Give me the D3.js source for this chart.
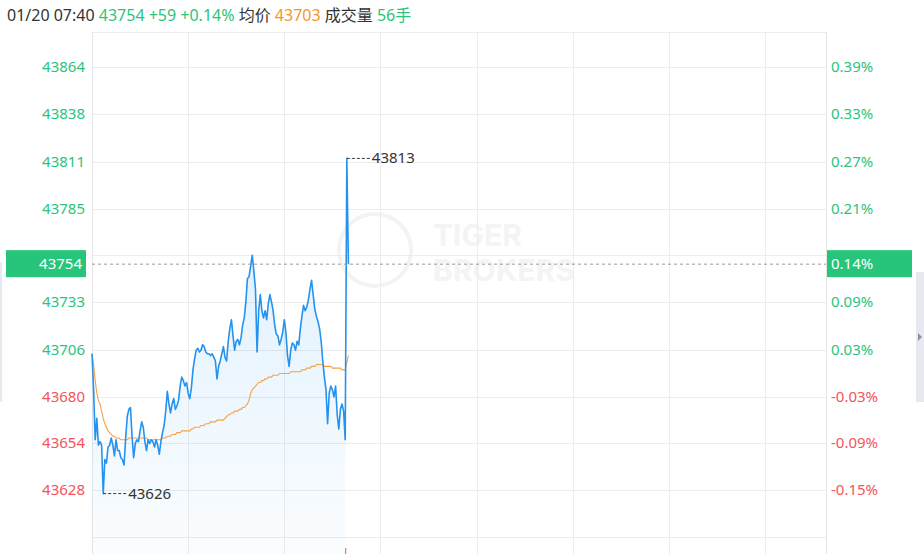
<!DOCTYPE html>
<html><head><meta charset="utf-8">
<script src="https://cdn.jsdelivr.net/npm/d3@7"></script>
<style>html,body{margin:0;padding:0;background:#fff;overflow:hidden}svg{display:block}</style>
</head><body><svg id="c" width="924" height="554"></svg>
<script>
const priceTicks = [43864,43838,43811,43785,43759,43733,43706,43680,43654,43628,43602];
const priceLabels = ["43864","43838","43811","43785","","43733","43706","43680","43654","43628",""];
const pctLabels = ["0.39%","0.33%","0.27%","0.21%","","0.09%","0.03%","-0.03%","-0.09%","-0.15%",""];
const timeGrid = [60,120,180,240,300,360,420];
const preClose = 43695;
const lastPrice = 43754, lastPct = "0.14%";
const maxPoint = {i:159, v:43813}, minPoint = {i:7, v:43626};
const header = [["01/20 07:40 ","#333"],["43754 +59 +0.14% ","#2bc47d"],["均价 ","#333"],["43703 ","#f7962d"],["成交量 ","#333"],["56手","#2bc47d"]];
const prices = [43704,43684,43656,43668,43653,43655,43653,43626,43645,43643,
43652,43653,43657,43653,43647,43656,43650,43650,43646,43645,
43642,43657,43669,43673,43674,43658,43646,43654,43656,43655,
43661,43666,43663,43655,43650,43656,43654,43656,43655,43652,
43656,43653,43648,43655,43660,43664,43672,43683,43676,43671,
43676,43679,43673,43675,43678,43686,43691,43689,43686,43688,
43682,43679,43685,43695,43701,43706,43707,43705,43706,43709,
43708,43705,43704,43704,43703,43704,43702,43700,43690,43697,
43700,43704,43708,43702,43700,43711,43718,43723,43714,43706,
43711,43712,43709,43713,43720,43724,43733,43746,43747,43753,
43759,43750,43740,43705,43728,43737,43728,43724,43728,43723,
43732,43737,43733,43728,43720,43715,43714,43709,43712,43716,
43723,43716,43703,43697,43706,43710,43709,43706,43711,43709,
43718,43725,43731,43728,43730,43734,43740,43745,43737,43729,
43725,43722,43718,43711,43700,43691,43684,43665,43682,43686,
43684,43680,43686,43670,43662,43673,43676,43672,43656,43813,43754];
const avgPrices = [43704,43698,43689,43682,43678,43676,43672,43668,43665,43663,
43661,43660,43659,43658,43658,43657,43657,43657,43656,43656,
43656,43656,43656,43657,43657,43657,43657,43657,43657,43657,
43657,43657,43657,43657,43657,43656,43656,43656,43656,43656,
43656,43656,43656,43656,43657,43657,43657,43658,43658,43658,
43659,43659,43659,43660,43660,43660,43661,43661,43661,43661,
43661,43661,43662,43662,43663,43663,43663,43663,43664,43664,
43664,43665,43665,43665,43666,43666,43666,43666,43667,43667,
43667,43667,43667,43668,43669,43670,43670,43671,43671,43672,
43672,43672,43673,43673,43674,43674,43675,43676,43678,43682,
43684,43685,43686,43687,43688,43688,43689,43689,43690,43690,
43691,43691,43691,43692,43692,43692,43692,43693,43693,43693,
43693,43693,43693,43693,43694,43694,43694,43694,43694,43694,
43694,43695,43695,43695,43696,43696,43696,43697,43697,43697,
43698,43698,43698,43698,43698,43697,43697,43697,43697,43697,
43696,43696,43696,43696,43696,43696,43695,43695,43695,43699,43703];
const lastVolume = {i:158};

const svg = d3.select("#c");
const FONT = "'Noto Sans','Noto Sans CJK SC',sans-serif";
const L=92, R=826, T=32, B=554;
const x = d3.scaleLinear().domain([0,458]).range([L,R]);
const y = d3.scaleLinear().domain([43628,43864]).range([490,67]);
const green="#2bc47d", red="#f2555a", gridC="#ececec";

// side strips
svg.append("rect").attr("x",0).attr("y",262).attr("width",2).attr("height",140).attr("fill","#e6eaf0");
svg.append("rect").attr("x",916).attr("y",272).attr("width",8).attr("height",130).attr("fill","#e6eaf0");
svg.append("path").attr("d","M918,333 L922,337 L918,341 Z").attr("fill","#8a93a0");

// watermark
const wm = svg.append("g");
wm.append("circle").attr("cx",375).attr("cy",250).attr("r",36).attr("fill","none").attr("stroke","#f3f3f3").attr("stroke-width",4);
wm.append("text").attr("x",433).attr("y",246).attr("font-family","Inter,"+FONT).attr("font-weight",700).attr("font-size",30).attr("fill","#f4f4f4").text("TIGER");
wm.append("text").attr("x",433).attr("y",281).attr("font-family","Inter,"+FONT).attr("font-weight",700).attr("font-size",30).attr("fill","#f4f4f4").text("BROKERS");

// grid
svg.append("g").selectAll("line").data(priceTicks).join("line")
  .attr("x1",L).attr("x2",R).attr("y1",d=>Math.round(y(d))+0.5).attr("y2",d=>Math.round(y(d))+0.5)
  .attr("stroke",gridC);
svg.append("line").attr("x1",L).attr("x2",R).attr("y1",T+0.5).attr("y2",T+0.5).attr("stroke",gridC);
svg.append("g").selectAll("line").data(timeGrid).join("line")
  .attr("x1",d=>Math.round(x(d))+0.5).attr("x2",d=>Math.round(x(d))+0.5).attr("y1",T).attr("y2",B)
  .attr("stroke",gridC);
[L,R].forEach(v=>svg.append("line").attr("x1",v+0.5).attr("x2",v+0.5).attr("y1",T).attr("y2",B).attr("stroke","#e6e6e6"));

// area
const defs = svg.append("defs");
const grad = defs.append("linearGradient").attr("id","ag").attr("x1",0).attr("x2",0).attr("y1",0).attr("y2",1);
grad.append("stop").attr("offset","0%").attr("stop-color","#2196f3").attr("stop-opacity",0.13);
grad.append("stop").attr("offset","100%").attr("stop-color","#2196f3").attr("stop-opacity",0.02);
const area = d3.area().x((d,i)=>x(i)).y0(B).y1(d=>y(d));
svg.append("path").datum(prices.slice(0,159)).attr("d",area).attr("fill","url(#ag)");

// avg line
const line = d3.line().x((d,i)=>x(i)).y(d=>y(d));
svg.append("path").datum(avgPrices).attr("d",line).attr("fill","none").attr("stroke","#f7a047").attr("stroke-width",1.1);
// price line
svg.append("path").datum(prices).attr("d",line).attr("fill","none").attr("stroke","#2592ee").attr("stroke-width",1.6).attr("stroke-linejoin","round");

// last price dashed
svg.append("line").attr("x1",L).attr("x2",R).attr("y1",y(lastPrice)).attr("y2",y(lastPrice))
  .attr("stroke","#999").attr("stroke-dasharray","3,3").attr("stroke-width",1);

// max/min markers
function marker(p){
  const px=x(p.i), py=y(p.v);
  svg.append("line").attr("x1",px).attr("x2",px+24).attr("y1",py).attr("y2",py).attr("stroke","#333").attr("stroke-dasharray","3,2");
  svg.append("text").attr("x",px+25).attr("y",py+5).attr("font-family",FONT).attr("font-size",15).attr("fill","#333").text(p.v);
}
marker(maxPoint); marker(minPoint);

// volume bit
svg.append("line").attr("x1",x(lastVolume.i)+0.5).attr("x2",x(lastVolume.i)+0.5).attr("y1",548).attr("y2",554).attr("stroke",red);

// labels
const lbl = svg.append("g").attr("font-family",FONT).attr("font-size",15);
lbl.selectAll("text.l").data(priceTicks).join("text").attr("class","l")
  .attr("x",85).attr("y",d=>y(d)+5).attr("text-anchor","end")
  .attr("fill",d=>d>=preClose?green:red).text((d,i)=>priceLabels[i]);
lbl.selectAll("text.r").data(priceTicks).join("text").attr("class","r")
  .attr("x",831).attr("y",d=>y(d)+5)
  .attr("fill",d=>d>=preClose?green:red).text((d,i)=>pctLabels[i]);

// current price boxes
const cy=y(lastPrice);
svg.append("rect").attr("x",6).attr("y",cy-14).attr("width",80).attr("height",27).attr("fill","#27c47b");
svg.append("rect").attr("x",827).attr("y",cy-14).attr("width",85).attr("height",27).attr("fill","#27c47b");
svg.append("text").attr("x",82).attr("y",cy+5).attr("text-anchor","end").attr("font-family",FONT).attr("font-size",15).attr("fill","#fff").text(lastPrice);
svg.append("text").attr("x",831).attr("y",cy+5).attr("font-family",FONT).attr("font-size",15).attr("fill","#fff").text(lastPct);

// header
const h = svg.append("text").attr("x",7).attr("y",21).attr("font-family",FONT).attr("font-size",16).attr("xml:space","preserve");
header.forEach(([t,c])=>h.append("tspan").attr("fill",c).text(t));
</script></body></html>
